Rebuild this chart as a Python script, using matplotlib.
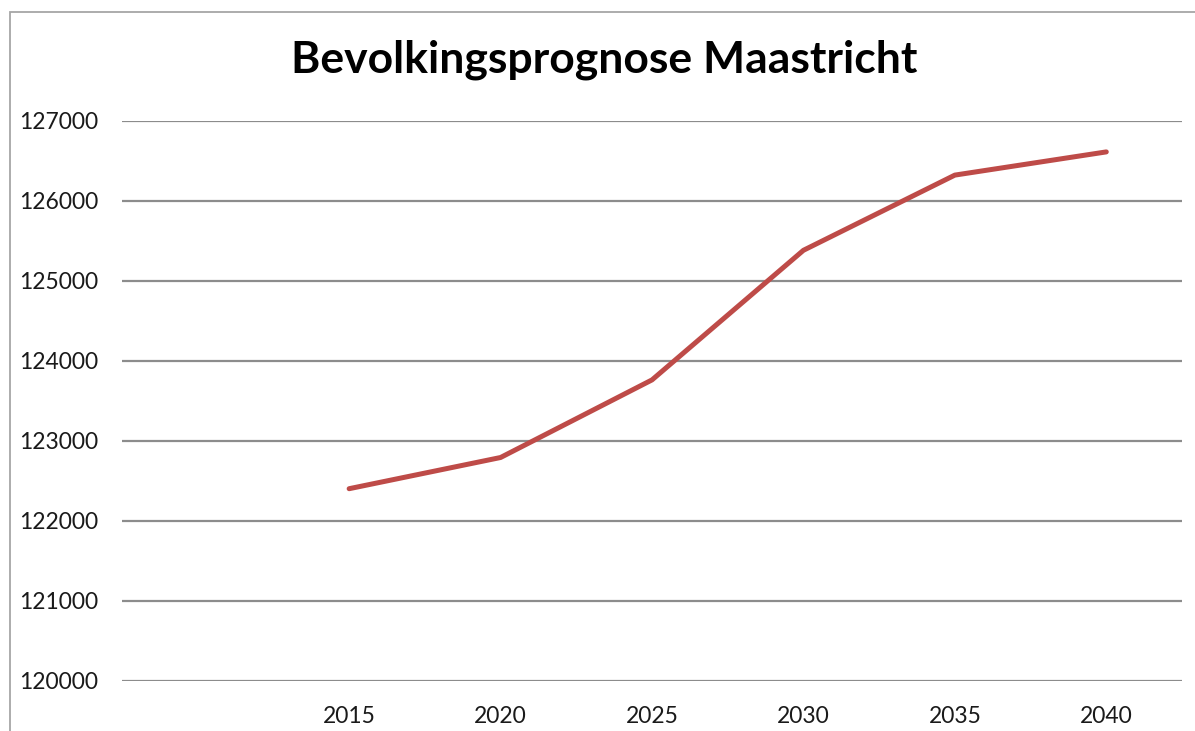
import numpy as np
import matplotlib
matplotlib.use('Agg')
import matplotlib.pyplot as plt
from matplotlib.patches import Rectangle

# categories (first slot is empty in the source sheet)
years = ['', '2015', '2020', '2025', '2030', '2035', '2040']
inwoners = [np.nan, 122400, 122790, 123760, 125380, 126320, 126610]
y_ticks = [120000, 121000, 122000, 123000, 124000, 125000, 126000, 127000]

plt.rcParams['font.family'] = ['Lato', 'DejaVu Sans']

fig = plt.figure(figsize=(11.95, 7.31), dpi=100)
W, H = 1195, 731

# chart area border (only top and left edges are visible in the crop)
fig.patches.append(Rectangle((10 / W, -0.1), 1.2, (H - 12) / H + 0.1, transform=fig.transFigure,
                             fill=False, edgecolor='#a6a6a6', linewidth=1.3))

ax = fig.add_axes([122 / W, (H - 680.7) / H, 1060 / W, 560 / H])
x = np.arange(len(years))
ax.plot(x, inwoners, color='#BE4B48', linewidth=3.6, solid_capstyle='round', solid_joinstyle='round', zorder=3)

ax.set_xlim(-0.5, len(years) - 0.5)
ax.set_ylim(y_ticks[0], y_ticks[-1])
ax.set_xticks(x)
ax.set_xticklabels(years)
ax.set_yticks(y_ticks)
ax.set_yticklabels([str(t) for t in y_ticks])
ax.grid(axis='y', color='#8c8c8c', linewidth=1.6)
ax.set_axisbelow(True)
for s in ax.spines.values():
    s.set_visible(False)
ax.tick_params(length=0, labelsize=16.5, labelcolor='#1a1a1a', pad=17)
ax.tick_params(axis='x', pad=18)

fig.text(604 / W, 1 - 60 / H, 'Bevolkingsprognose Maastricht', ha='center', va='center',
         fontsize=32, fontweight='bold', color='black')

fig.savefig('out.png', dpi=100)
